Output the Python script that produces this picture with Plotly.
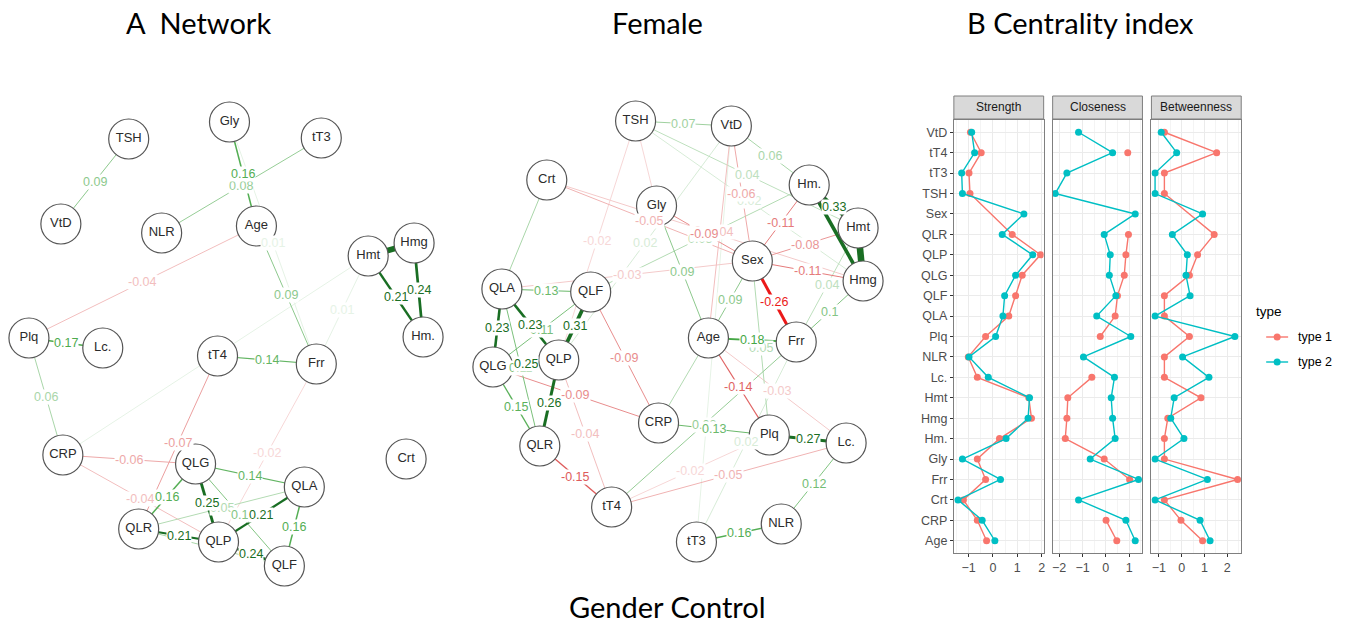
import plotly.graph_objects as go

W, H = 1346, 625

# ---------------- Network A (Gender Control) ----------------
netA_nodes = ["TSH", "Gly", "tT3", "VtD", "NLR", "Age", "Hmt", "Hmg", "Hm.", "Plq",
              "Lc.", "tT4", "Frr", "CRP", "QLG", "QLA", "Crt", "QLR", "QLP", "QLF"]
netA_x = [128, 229, 321, 60, 161, 256, 368, 414, 423, 28, 102, 217, 316, 62, 195, 304, 406, 138, 218, 284]
netA_y = [139, 122, 138, 224, 233, 226, 256, 243, 337, 338, 348, 356, 364, 455, 464, 487, 459, 529, 542, 566]
netA_from = ["TSH", "Gly", "tT3", "Age", "Age", "Gly", "Hmt", "Hmt", "Hmg", "Frr", "CRP", "Plq", "Plq", "tT4",
             "tT4", "CRP", "CRP", "Frr", "QLG", "QLG", "QLG", "QLG", "QLR", "QLP", "QLA", "QLR", "QLP", "QLR"]
netA_to = ["VtD", "Age", "NLR", "Plq", "Frr", "Frr", "Hmg", "Hm.", "Hm.", "Hmt", "Hmt", "Lc.", "CRP", "Frr",
           "QLR", "QLG", "QLP", "QLP", "QLA", "QLR", "QLP", "QLF", "QLA", "QLA", "QLF", "QLP", "QLF", "QLF"]
netA_w = [0.09, 0.16, 0.08, -0.04, 0.09, 0.01, 0.45, 0.21, 0.24, 0.01, 0.01, 0.17, 0.06, 0.14,
          -0.07, -0.06, -0.04, -0.02, 0.14, 0.16, 0.25, 0.1, 0.05, 0.21, 0.16, 0.21, 0.24, 0.06]
netA_lab = [1, 1, 1, 1, 1, 1, 0, 1, 1, 1, 0, 1, 1, 1,
            1, 1, 1, 1, 1, 1, 1, 1, 1, 1, 1, 1, 1, 0]

# ---------------- Network Female ----------------
netF_nodes = ["TSH", "VtD", "Crt", "Gly", "Hm.", "Hmt", "Sex", "Hmg", "QLA", "QLF", "Age",
              "Frr", "QLG", "QLP", "CRP", "Plq", "Lc.", "QLR", "tT4", "NLR", "tT3"]
netF_x = [636, 732, 547, 657, 810, 859, 753, 864, 502, 591, 709, 797, 493, 559, 659, 770, 847, 540, 612, 782, 697]
netF_y = [121, 126, 180, 206, 185, 228, 261, 281, 289, 292, 338, 342, 367, 360, 423, 435, 443, 446, 507, 524, 542]
netF_from = ["VtD", "TSH", "Age", "TSH", "VtD", "Crt", "TSH", "TSH", "TSH", "VtD",
             "Crt", "QLA", "Crt", "Hmt", "Sex", "Frr", "Age", "Age", "VtD", "Gly",
             "VtD", "Hm.", "Hm.", "Hmt", "Sex", "Hmg", "Sex", "Gly", "QLA", "QLA",
             "QLA", "QLF", "QLF", "QLG", "QLA", "QLG", "QLP", "QLG", "QLF", "QLP",
             "QLR", "Age", "Sex", "Frr", "CRP", "Plq", "tT4", "tT4", "Lc.", "tT3",
             "Hm.", "Hmt", "Hm."]
netF_to = ["tT3", "Gly", "CRP", "VtD", "Hm.", "Hmg", "Hmt", "Hmg", "QLP", "QLP",
           "QLA", "Sex", "Sex", "Frr", "Frr", "tT3", "Lc.", "Plq", "Age", "Sex",
           "Sex", "QLF", "Sex", "Sex", "Hmg", "Frr", "Age", "Age", "QLF", "QLP",
           "QLG", "QLG", "QLP", "QLP", "QLR", "QLR", "QLR", "CRP", "CRP", "tT4",
           "tT4", "Frr", "Plq", "tT4", "Plq", "Lc.", "Plq", "Lc.", "NLR", "NLR",
           "Hmt", "Hmg", "Hmg"]
netF_w = [0.01, -0.02, 0.05, 0.07, 0.06, -0.03, 0.04, 0.02, -0.02, 0.02,
          0.06, -0.03, -0.05, 0.04, -0.26, 0.02, -0.03, -0.14, -0.04, -0.09,
          -0.06, 0.05, -0.11, -0.08, -0.11, 0.1, 0.09, 0.09, 0.13, 0.23,
          0.23, 0.11, 0.31, 0.25, 0.11, 0.15, 0.26, -0.09, -0.09, -0.04,
          -0.15, 0.18, 0.05, 0.08, 0.13, 0.27, -0.02, -0.05, 0.12, 0.16,
          0.33, 0.5, 0.3]
netF_lab = [0, 0, 0, 1, 1, 1, 1, 1, 1, 1,
            0, 1, 1, 1, 1, 1, 1, 1, 1, 1,
            1, 1, 1, 1, 1, 1, 1, 1, 1, 1,
            1, 1, 1, 1, 1, 1, 1, 1, 1, 1,
            1, 1, 1, 1, 1, 1, 1, 1, 1, 1,
            1, 0, 0]

# ---------------- Centrality ----------------
cats = ["VtD", "tT4", "tT3", "TSH", "Sex", "QLR", "QLP", "QLG", "QLF", "QLA", "Plq", "NLR",
        "Lc.", "Hmt", "Hmg", "Hm.", "Gly", "Frr", "Crt", "CRP", "Age"]
strength_t1 = [-0.92, -0.48, -0.98, -0.94, None, 0.79, 1.95, 1.2, 0.93, 0.65, -0.3, -1.01,
               -0.64, 1.47, 1.58, 0.27, -0.64, -0.3, -1.21, -0.64, -0.26]
strength_t2 = [-0.87, -0.75, -1.28, -1.25, 1.27, 0.38, 1.63, 0.93, 0.48, 0.41, 0.11, -0.98,
               -0.19, 1.5, 1.44, 0.54, -1.25, 0.31, -1.43, -0.44, 0.08]
closeness_t1 = [None, 0.94, None, None, None, 0.97, 0.86, 0.79, 0.5, 0.4, -0.24, None,
                -0.6, -1.63, -1.67, -1.74, -0.07, 1.02, None, 0.01, 0.47]
closeness_t2 = [-1.17, 0.29, -1.67, -2.17, 1.26, -0.07, 0.19, 0.15, 0.43, -0.39, 1.07, -0.96,
                0.37, 0.23, 0.29, 0.4, -0.67, 1.4, -1.17, 0.86, 1.26]
between_t1 = [-0.76, 1.54, -0.76, -0.76, None, 1.43, 0.7, 0.34, -0.76, -0.76, 0.34, -0.76,
              -0.76, 0.85, -0.61, -0.76, -0.76, 2.46, -0.76, -0.03, 0.92]
between_t2 = [-0.9, -0.22, -1.17, -1.17, 0.92, -0.41, 0.25, 0.19, 0.37, -1.17, 2.34, 0.04,
              1.2, -0.33, -0.48, 0.1, -1.17, 1.13, -1.17, 0.81, 1.25]
panel_names = ["Strength", "Closeness", "Betweenness"]
type_names = ["type 1", "type 2"]
type_colors = ["#F8766D", "#00BFC4"]


def px(x):
    return x / W


def py(y):
    return 1 - y / H


def edge_style(w, cut=0.2):
    a = min(1.0, abs(w) / cut) ** 0.7
    if w > 0:
        base = (25, 110, 35) if abs(w) >= cut else (55, 160, 55)
    else:
        base = (235, 25, 25) if abs(w) >= cut else (215, 55, 55)
    r, g, b = [round(255 + (c - 255) * a) for c in base]
    width = 1.0 if abs(w) < 0.12 else 15 * abs(w) - 0.9
    return f"rgb({r},{g},{b})", width


def fmt(w):
    return f"{w:.2f}".rstrip("0").rstrip(".")


fig = go.Figure()
annotations = []


def draw_network(nodes, xs, ys, efrom, eto, ew, elab, xa, ya):
    pos = {n: (x, y) for n, x, y in zip(nodes, xs, ys)}
    order = sorted(range(len(ew)), key=lambda i: abs(ew[i]))
    for i in order:
        (x0, y0), (x1, y1) = pos[efrom[i]], pos[eto[i]]
        col, wid = edge_style(ew[i])
        fig.add_trace(go.Scatter(x=[x0, x1], y=[y0, y1], mode="lines", xaxis=xa, yaxis=ya,
                                 line=dict(color=col, width=wid), hoverinfo="skip", showlegend=False))
    for i in order:
        if not elab[i]:
            continue
        (x0, y0), (x1, y1) = pos[efrom[i]], pos[eto[i]]
        col, _ = edge_style(ew[i])
        annotations.append(dict(x=(x0 + x1) / 2, y=(y0 + y1) / 2, xref=xa, yref=ya, text=fmt(ew[i]),
                                xanchor="center", yanchor="middle",
                                showarrow=False, bgcolor="white", borderpad=0,
                                font=dict(family="Liberation Sans, Arial", size=12.5, color=col)))
    fig.add_trace(go.Scatter(x=xs, y=ys, mode="markers+text", text=nodes, xaxis=xa, yaxis=ya,
                             textposition="middle center",
                             textfont=dict(family="Liberation Sans, Arial", size=13, color="#2b2b2b"),
                             marker=dict(size=40, color="white", line=dict(color="#555555", width=1.2)),
                             hoverinfo="skip", showlegend=False))


draw_network(netA_nodes, netA_x, netA_y, netA_from, netA_to, netA_w, netA_lab, "x", "y")
draw_network(netF_nodes, netF_x, netF_y, netF_from, netF_to, netF_w, netF_lab, "x2", "y2")

# centrality panels
panel_data = [(strength_t1, strength_t2), (closeness_t1, closeness_t2), (between_t1, between_t2)]
for p, (t1, t2) in enumerate(panel_data):
    xa, ya = f"x{p + 3}", f"y{p + 3}"
    for k, vals in enumerate((t1, t2)):
        fig.add_trace(go.Scatter(x=vals, y=cats, mode="lines+markers", xaxis=xa, yaxis=ya,
                                 connectgaps=(p != 1),
                                 line=dict(color=type_colors[k], width=1.4),
                                 marker=dict(color=type_colors[k], size=7),
                                 name=type_names[k], showlegend=False, hoverinfo="skip"))

net_axis = dict(visible=False, showgrid=False, zeroline=False)
layout = dict(
    width=W, height=H, margin=dict(l=0, r=0, t=0, b=0),
    plot_bgcolor="white", paper_bgcolor="white",
    xaxis=dict(domain=[0, px(450)], range=[0, 450], **net_axis),
    yaxis=dict(domain=[py(610), py(80)], range=[610, 80], **net_axis),
    xaxis2=dict(domain=[px(455), px(905)], range=[455, 905], **net_axis),
    yaxis2=dict(domain=[py(610), py(80)], range=[610, 80], **net_axis),
)
x_domains = [(955, 1045), (1054, 1144), (1153, 1243)]
x_ranges = [[-1.6, 2.08], [-2.28, 1.57], [-1.33, 2.62]]
x_ticks = [[-1, 0, 1, 2], [-2, -1, 0, 1], [-1, 0, 1, 2]]
tickfont = dict(family="Liberation Sans, Arial", size=12.5, color="#4D4D4D")
shapes = []
for p in range(3):
    a, b = x_domains[p]
    layout[f"xaxis{p + 3}"] = dict(
        domain=[px(a), px(b)], range=x_ranges[p], anchor=f"y{p + 3}",
        tickvals=x_ticks[p], ticks="outside", ticklen=3, tickcolor="#333333", tickfont=tickfont,
        showgrid=True, gridcolor="#EBEBEB", gridwidth=1.1, zeroline=False,
        minor=dict(dtick=0.5, tick0=0, showgrid=True, gridcolor="#F4F4F4", gridwidth=0.6),
        showline=True, mirror=True, linecolor="#7F7F7F", linewidth=1)
    layout[f"yaxis{p + 3}"] = dict(
        domain=[py(553), py(120)], anchor=f"x{p + 3}", type="category",
        categoryorder="array", categoryarray=cats, range=[20.6, -0.6],
        showticklabels=(p == 0), ticks="outside" if p == 0 else "", ticklen=3, tickcolor="#333333",
        tickfont=tickfont, showgrid=True, gridcolor="#EBEBEB", gridwidth=1.1, zeroline=False,
        showline=True, mirror=True, linecolor="#7F7F7F", linewidth=1,
        **({} if p == 0 else {"matches": "y3"}))
    shapes.append(dict(type="rect", xref="paper", yref="paper", x0=px(a), x1=px(b), y0=py(119), y1=py(96),
                       fillcolor="#D9D9D9", line=dict(color="#7F7F7F", width=1)))
    annotations.append(dict(x=px((a + b) / 2), y=py(107.5), xref="paper", yref="paper", text=panel_names[p],
                            xanchor="center", yanchor="middle", showarrow=False,
                            font=dict(family="Liberation Sans, Arial", size=12, color="#1A1A1A")))

# legend (manual)
annotations.append(dict(x=px(1256), y=py(311), xref="paper", yref="paper", text="type", xanchor="left",
                        yanchor="middle", showarrow=False,
                        font=dict(family="Liberation Sans, Arial", size=13.5, color="#000000")))
for k in range(2):
    yy = 337 + 25 * k
    shapes.append(dict(type="line", xref="paper", yref="paper", x0=px(1268), x1=px(1290), y0=py(yy), y1=py(yy),
                       line=dict(color=type_colors[k], width=1.4)))
    shapes.append(dict(type="circle", xref="paper", yref="paper", x0=px(1275.5), x1=px(1282.5),
                       y0=py(yy + 3.5), y1=py(yy - 3.5), fillcolor=type_colors[k], line=dict(width=0)))
    annotations.append(dict(x=px(1298), y=py(yy), xref="paper", yref="paper", text=type_names[k],
                            xanchor="left", yanchor="middle", showarrow=False,
                            font=dict(family="Liberation Sans, Arial", size=12.5, color="#000000")))

# titles
title_font = dict(family="Lato, Open Sans", size=29, color="#000000")
for txt, cx, cy in [("A\u00a0\u00a0Network", 198, 22), ("Female", 658, 22),
                    ("B Centrality index", 1082, 22), ("Gender Control", 668, 606)]:
    annotations.append(dict(x=px(cx), y=py(cy), xref="paper", yref="paper", text=txt,
                            xanchor="center", yanchor="middle", showarrow=False, font=title_font))

layout["annotations"] = annotations
layout["shapes"] = shapes
fig.update_layout(**layout)
fig.write_html("out.html", config={"displayModeBar": False},
               post_script="document.body.style.margin='0px';")
